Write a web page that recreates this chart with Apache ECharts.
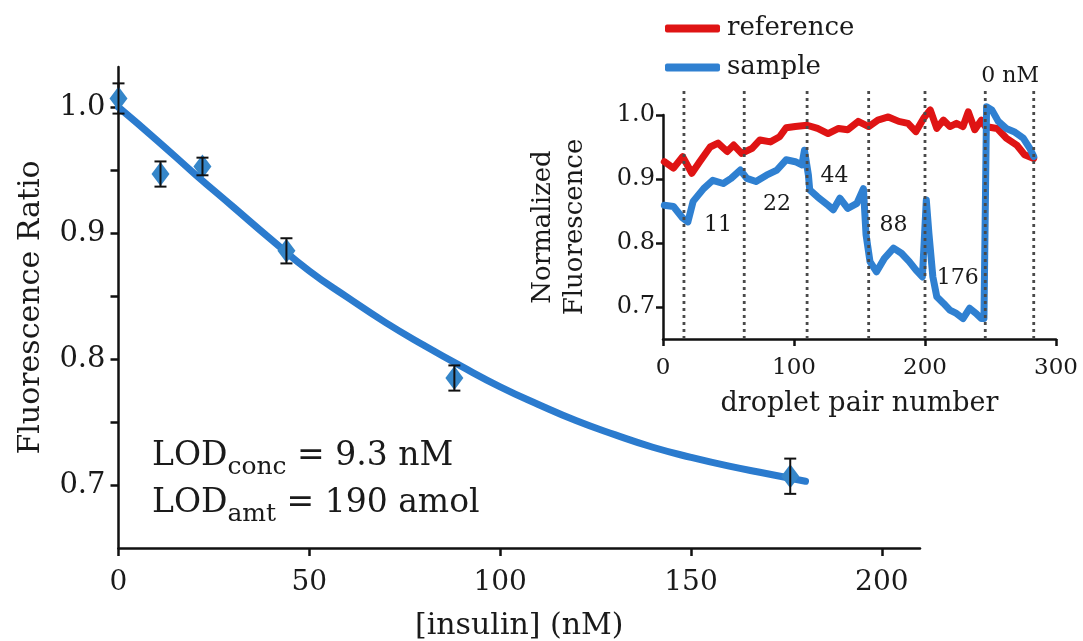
<!DOCTYPE html>
<html><head><meta charset="utf-8">
<script src="https://cdn.jsdelivr.net/npm/echarts@6/dist/echarts.min.js"></script>
<style>html,body{margin:0;padding:0;background:#fff}#c{width:1083px;height:641px}</style>
</head><body><div id="c"></div>
<script>
// ---- main panel data ----
const insulinConc = [0, 11, 22, 44, 88, 176];
const ratioMean = [1.007, 0.947, 0.953, 0.886, 0.785, 0.707];
const ratioErr = [0.012, 0.010, 0.007, 0.010, 0.010, 0.014];
const fitX = [0,10,20,30,40,50,60,70,80,90,100,110,120,130,140,150,160,170,180];
const fitY = [1.000,0.974,0.947,0.921,0.895,0.870,0.849,0.829,0.811,0.794,0.778,0.764,0.751,0.740,0.730,0.722,0.715,0.709,0.703];
const mainXTicks = [0, 50, 100, 150, 200];
const mainYTicks = [0.7, 0.75, 0.8, 0.85, 0.9, 0.95, 1.0];
const mainYLabels = [0.7, 0.8, 0.9, 1.0];

// ---- inset data ----
const refX = [1,8,15,22,28,36,42,49,54,60,68,74,82,89,94,101,110,118,126,134,141,149,157,164,172,180,187,193,199,204,209,214,219,224,229,233,238,243,246,255,262,270,276,283];
const refY = [0.927,0.917,0.935,0.909,0.927,0.950,0.956,0.943,0.953,0.940,0.948,0.961,0.958,0.966,0.980,0.982,0.984,0.979,0.971,0.979,0.977,0.990,0.982,0.992,0.997,0.990,0.987,0.974,0.995,1.008,0.979,0.992,0.982,0.987,0.982,1.005,0.977,0.992,0.982,0.979,0.964,0.953,0.938,0.932];
const sampleX = [1,8,15,19,23,31,38,46,52,59,64,71,79,87,94,101,106,108,111,112,118,126,130,135,141,148,153,155,158,163,169,176,182,188,193,198,201,203,206,209,214,219,224,229,234,239,243,245,247,251,256,262,268,275,280,283];
const sampleY = [0.859,0.857,0.839,0.833,0.865,0.885,0.898,0.893,0.901,0.914,0.901,0.896,0.906,0.914,0.930,0.927,0.922,0.945,0.906,0.883,0.872,0.859,0.852,0.870,0.854,0.862,0.885,0.813,0.771,0.755,0.776,0.792,0.784,0.771,0.758,0.747,0.867,0.815,0.747,0.716,0.706,0.695,0.690,0.682,0.698,0.690,0.682,0.682,1.013,1.008,0.990,0.979,0.974,0.964,0.948,0.935];
const boundaryX = [16, 62, 110, 157, 200, 246, 283];
const boundaryRange = [0.65, 1.04];
const segLabels = ['11', '22', '44', '88', '176', '0 nM'];
const segLabelX = [42, 87, 131, 176, 225, 265];
const segLabelY = [0.827, 0.860, 0.904, 0.827, 0.745, 1.060];
const insetXTicks = [0, 100, 200, 300];
const insetYTicks = [0.7, 0.8, 0.9, 1.0];

const FONT = 'DejaVu Serif';
const TXT = '#1a1a1a';
const zip = (a, b) => a.map((v, i) => [v, b[i]]);

const chart = echarts.init(document.getElementById('c'), null, {renderer: 'canvas'});

const axisCommon = {
  axisLine: {show: true, onZero: false, lineStyle: {color: '#111', width: 2.5}},
  splitLine: {show: false},
};
const richLOD = {
  m: {fontFamily: FONT, fontSize: 33, fill: TXT, lineHeight: 46, verticalAlign: 'middle'},
  s: {fontFamily: FONT, fontSize: 25, fill: TXT, lineHeight: 28, verticalAlign: 'bottom'}
};

chart.setOption({
  animation: false,
  backgroundColor: '#fff',
  textStyle: {fontFamily: FONT, color: TXT},
  legend: {
    orient: 'vertical', left: 660, top: 8,
    itemWidth: 55, itemHeight: 8, itemGap: 8, icon: 'roundRect',
    data: ['reference', 'sample'],
    textStyle: {fontFamily: FONT, fontSize: 26, color: TXT, lineHeight: 31, padding: [0, 0, 0, 2]}
  },
  grid: [
    {left: 118.5, right: 163, top: 67, bottom: 93, containLabel: false, outerBoundsMode: 'none'},
    {left: 663, right: 27, top: 115, bottom: 302, containLabel: false, outerBoundsMode: 'none'}
  ],
  xAxis: [
    Object.assign({}, axisCommon, {
      gridIndex: 0, type: 'value', min: 0, max: 210,
      name: '[insulin] (nM)', nameLocation: 'middle', nameGap: 63,
      nameTextStyle: {fontFamily: FONT, fontSize: 30, color: TXT},
      axisTick: {show: true, inside: false, length: 8, lineStyle: {color: '#111', width: 2.5}, customValues: mainXTicks},
      axisLabel: {fontFamily: FONT, fontSize: 28, color: TXT, margin: 21, customValues: mainXTicks}
    }),
    Object.assign({}, axisCommon, {
      gridIndex: 1, type: 'value', min: 0, max: 300,
      name: 'droplet pair number', nameLocation: 'middle', nameGap: 51,
      nameTextStyle: {fontFamily: FONT, fontSize: 27, color: TXT},
      axisTick: {show: true, length: 7, lineStyle: {color: '#111', width: 2.5}, customValues: insetXTicks},
      axisLabel: {fontFamily: FONT, fontSize: 23, color: TXT, margin: 18, customValues: insetXTicks}
    })
  ],
  yAxis: [
    Object.assign({}, axisCommon, {
      gridIndex: 0, type: 'value', min: 0.65, max: 1.032,
      name: 'Fluorescence Ratio', nameLocation: 'middle', nameGap: 72, nameRotate: 90,
      nameTextStyle: {fontFamily: FONT, fontSize: 30, color: TXT},
      axisTick: {show: true, length: 8, lineStyle: {color: '#111', width: 2.5}, customValues: mainYTicks},
      axisLabel: {fontFamily: FONT, fontSize: 29, color: TXT, margin: 13, customValues: mainYLabels,
        formatter: v => v.toFixed(1)}
    }),
    Object.assign({}, axisCommon, {
      gridIndex: 1, type: 'value', min: 0.65, max: 1.0,
      name: 'Normalized\nFluorescence', nameLocation: 'middle', nameGap: 72, nameRotate: 90,
      nameTextStyle: {fontFamily: FONT, fontSize: 26, color: TXT, lineHeight: 32},
      axisTick: {show: true, length: 7, lineStyle: {color: '#111', width: 2.5}, customValues: insetYTicks},
      axisLabel: {fontFamily: FONT, fontSize: 24, color: TXT, margin: 8, customValues: insetYTicks,
        formatter: v => v.toFixed(1)}
    })
  ],
  graphic: [
    {type: 'text', left: 152, top: 440, z: 10, style: {text: '{m|LOD}{s|conc}{m| = 9.3 nM}', rich: richLOD}},
    {type: 'text', left: 152, top: 487, z: 10, style: {text: '{m|LOD}{s|amt}{m| = 190 amol}', rich: richLOD}}
  ],
  series: [
    {
      name: 'fit', type: 'line', xAxisIndex: 0, yAxisIndex: 0, smooth: true,
      showSymbol: false, symbol: 'none', data: zip(fitX, fitY),
      lineStyle: {color: '#2b7bce', width: 7, cap: 'round'}, z: 2
    },
    {
      name: 'mean', type: 'scatter', xAxisIndex: 0, yAxisIndex: 0,
      symbol: 'diamond', symbolSize: [18, 24], data: zip(insulinConc, ratioMean),
      itemStyle: {color: '#3586c9', opacity: 1}, z: 3
    },
    {
      name: 'err', type: 'custom', xAxisIndex: 0, yAxisIndex: 0, z: 4,
      data: insulinConc.map((x, i) => [x, ratioMean[i], ratioErr[i]]),
      encode: {x: 0, y: 1},
      renderItem: function (params, api) {
        const x = api.value(0), y = api.value(1), e = api.value(2);
        const t = api.coord([x, y + e]), b = api.coord([x, y - e]);
        const w = 6, st = {stroke: '#111', lineWidth: 2};
        return {type: 'group', children: [
          {type: 'line', shape: {x1: t[0], y1: t[1], x2: b[0], y2: b[1]}, style: st},
          {type: 'line', shape: {x1: t[0] - w, y1: t[1], x2: t[0] + w, y2: t[1]}, style: st},
          {type: 'line', shape: {x1: b[0] - w, y1: b[1], x2: b[0] + w, y2: b[1]}, style: st}
        ]};
      }
    },
    {
      name: 'reference', type: 'line', xAxisIndex: 1, yAxisIndex: 1, clip: false,
      showSymbol: false, symbol: 'none', data: zip(refX, refY), color: '#df1414',
      lineStyle: {color: '#df1414', width: 7, join: 'round', cap: 'round'}, z: 2
    },
    {
      name: 'sample', type: 'line', xAxisIndex: 1, yAxisIndex: 1, clip: false,
      showSymbol: false, symbol: 'none', data: zip(sampleX, sampleY), color: '#2f80d1',
      lineStyle: {color: '#2f80d1', width: 7, join: 'round', cap: 'round'}, z: 3
    },
    {
      name: 'boundaries', type: 'custom', xAxisIndex: 1, yAxisIndex: 1, z: 4, silent: true,
      data: boundaryX.map(x => [x]),
      encode: {x: 0},
      renderItem: function (params, api) {
        const x = api.value(0);
        const a = api.coord([x, boundaryRange[0]]), b = api.coord([x, boundaryRange[1]]);
        return {type: 'line', shape: {x1: a[0], y1: a[1], x2: b[0], y2: b[1]},
          style: {stroke: '#4a4a4a', lineWidth: 2.8, lineDash: [3, 4]}};
      }
    },
    {
      name: 'segLabels', type: 'scatter', xAxisIndex: 1, yAxisIndex: 1, clip: false,
      symbolSize: 0, silent: true, z: 5, itemStyle: {opacity: 1},
      data: segLabels.map((t, i) => ({name: t, value: [segLabelX[i], segLabelY[i]]})),
      label: {show: true, position: 'inside', formatter: '{b}',
        fontFamily: FONT, fontSize: 22, color: TXT}
    }
  ]
});
</script></body></html>
